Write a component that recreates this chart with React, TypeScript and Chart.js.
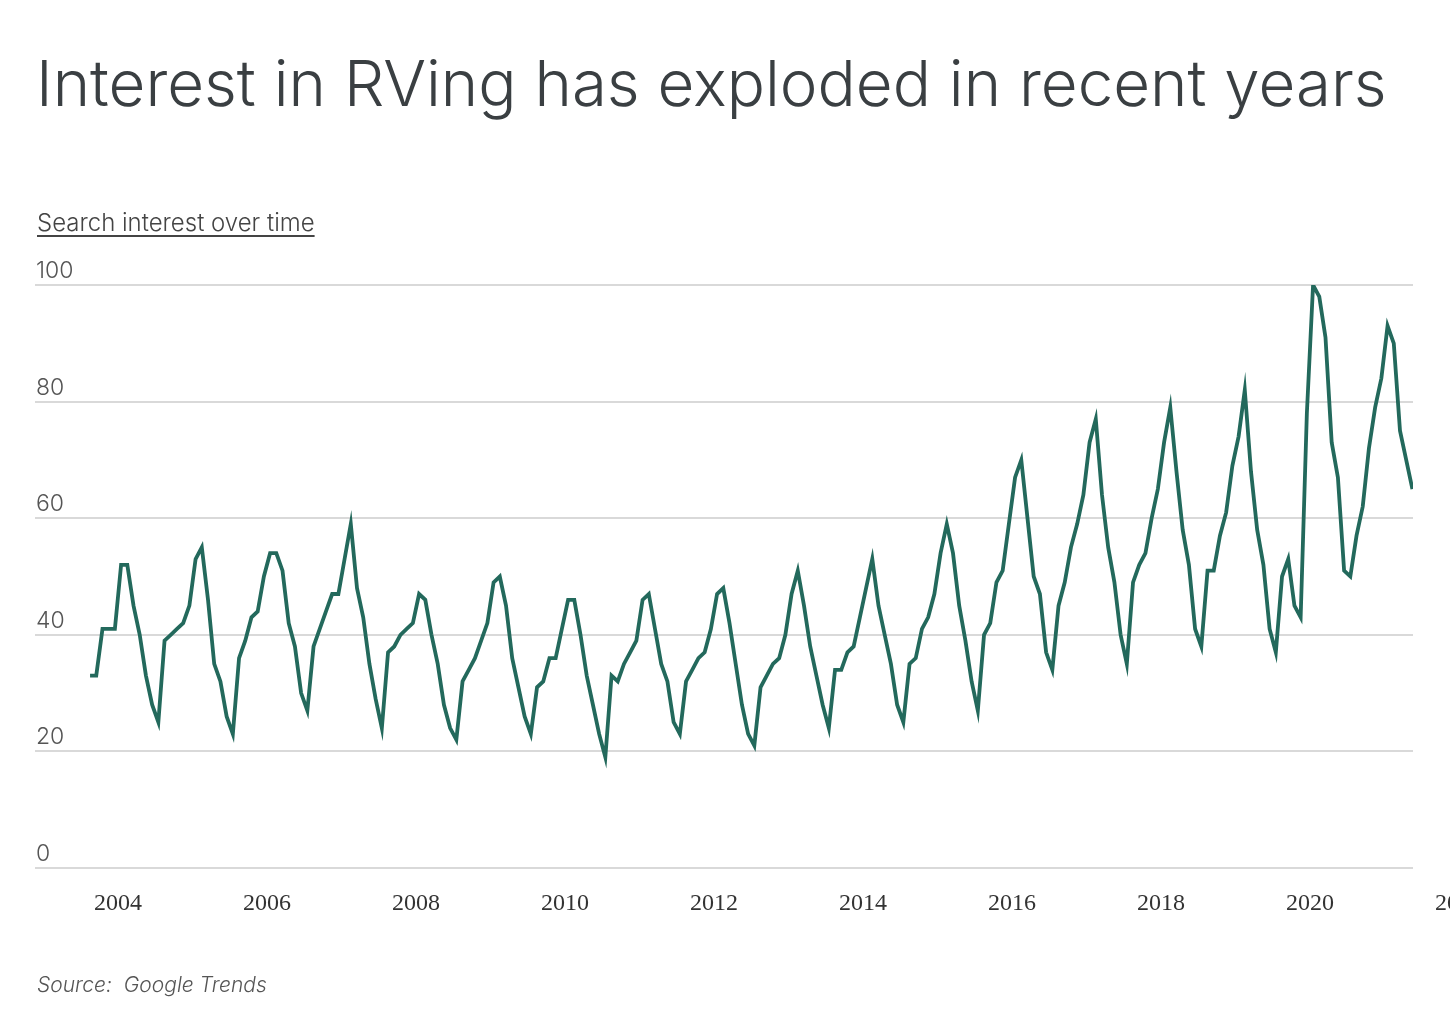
import React, { useEffect, useRef } from "react";
import { Chart, registerables } from "chart.js";

Chart.register(...registerables);

// Monthly search interest, starting August 2003 (first point), Google Trends index
const START_YEAR = 2003;
const START_MONTH = 8; // August
const interest: number[] = [
  33, 33, 41, 41, 41, 52, 52, 45, 40, 33, 28, 25,
  39, 40, 41, 42, 45, 53, 55, 46, 35, 32, 26, 23,
  36, 39, 43, 44, 50, 54, 54, 51, 42, 38, 30, 27,
  38, 41, 44, 47, 47, 53, 59, 48, 43, 35, 29, 24,
  37, 38, 40, 41, 42, 47, 46, 40, 35, 28, 24, 22,
  32, 34, 36, 39, 42, 49, 50, 45, 36, 31, 26, 23,
  31, 32, 36, 36, 41, 46, 46, 40, 33, 28, 23, 19,
  33, 32, 35, 37, 39, 46, 47, 41, 35, 32, 25, 23,
  32, 34, 36, 37, 41, 47, 48, 42, 35, 28, 23, 21,
  31, 33, 35, 36, 40, 47, 51, 45, 38, 33, 28, 24,
  34, 34, 37, 38, 43, 48, 53, 45, 40, 35, 28, 25,
  35, 36, 41, 43, 47, 54, 59, 54, 45, 39, 32, 27,
  40, 42, 49, 51, 59, 67, 70, 60, 50, 47, 37, 34,
  45, 49, 55, 59, 64, 73, 77, 64, 55, 49, 40, 35,
  49, 52, 54, 60, 65, 73, 79, 68, 58, 52, 41, 38,
  51, 51, 57, 61, 69, 74, 82, 68, 58, 52, 41, 37,
  50, 53, 45, 43, 78, 100, 98, 91, 73, 67, 51, 50,
  57, 62, 72, 79, 84, 93, 90, 75, 70, 65,
];

const yTicks: number[] = [0, 20, 40, 60, 80, 100];
const xTickYears: number[] = [2004, 2006, 2008, 2010, 2012, 2014, 2016, 2018, 2020, 2022];

const TITLE = "Interest in RVing has exploded in recent years";
const SUBTITLE = "Search interest over time";
const SOURCE = "Source:  Google Trends";

const LINE_COLOR = "#23695c";

export default function App() {
  const canvasRef = useRef<HTMLCanvasElement | null>(null);

  useEffect(() => {
    const canvas = canvasRef.current;
    if (!canvas) return;
    const points = interest.map((v, i) => ({
      x: START_YEAR + (START_MONTH - 1 + i + 0.5) / 12,
      y: v,
    }));
    const chart = new Chart(canvas, {
      type: "line",
      data: {
        datasets: [
          {
            data: points,
            borderColor: LINE_COLOR,
            borderWidth: 3.8,
            pointRadius: 0,
            tension: 0,
            fill: false,
            borderJoinStyle: "miter",
          },
        ],
      },
      options: {
        responsive: false,
        animation: false,
        devicePixelRatio: 1,
        layout: { padding: { left: 35, right: 37, top: 285, bottom: 84 } },
        plugins: { legend: { display: false }, tooltip: { enabled: false } },
        scales: {
          x: {
            type: "linear",
            min: 2002.886,
            max: 2021.383,
            grid: { display: false },
            border: { display: false },
            ticks: {
              autoSkip: false,
              maxRotation: 0,
              padding: 13,
              color: "#333333",
              font: { family: "'Liberation Serif', 'DejaVu Serif', serif", size: 24 },
              callback: (v: any) => String(v),
            },
            afterBuildTicks: (scale: any) => {
              scale.ticks = xTickYears.map((v) => ({ value: v }));
            },
            afterFit: (scale: any) => {
              scale.height = 60;
              scale.paddingLeft = 0;
              scale.paddingRight = 0;
            },
          },
          y: {
            min: 0,
            max: 100,
            border: { display: false },
            grid: { color: "#d9d9d9", lineWidth: 2, drawTicks: false },
            ticks: {
              mirror: true,
              padding: 1,
              labelOffset: -14,
              color: "#555555",
              font: { family: "Inter, 'Noto Sans', sans-serif", size: 23, weight: 300 },
            },
            afterBuildTicks: (scale: any) => {
              scale.ticks = yTicks.map((v) => ({ value: v }));
            },
            afterFit: (scale: any) => {
              scale.width = 0;
              scale.paddingTop = 0;
              scale.paddingBottom = 0;
            },
          },
        },
      },
    });
    return () => chart.destroy();
  }, []);

  return (
    <div
      style={{
        position: "absolute",
        left: 0,
        top: 0,
        width: 1450,
        height: 1012,
        background: "#ffffff",
        overflow: "hidden",
        fontFamily: "Inter, 'Noto Sans', sans-serif",
      }}
    >
      <canvas
        ref={canvasRef}
        width={1450}
        height={1012}
        style={{ position: "absolute", left: 0, top: 0, width: 1450, height: 1012 }}
      />
      <div
        style={{
          position: "absolute",
          left: 36,
          top: 51,
          fontSize: 63.6,
          lineHeight: "64px",
          fontWeight: 300,
          color: "#3a3f42",
          whiteSpace: "pre",
        }}
      >
        {TITLE}
      </div>
      <div
        style={{
          position: "absolute",
          left: 37,
          top: 209,
          fontSize: 24,
          lineHeight: "28px",
          fontWeight: 300,
          color: "#444444",
          textDecoration: "underline",
          textDecorationThickness: 2,
          textUnderlineOffset: 4,
          whiteSpace: "pre",
        }}
      >
        {SUBTITLE}
      </div>
      <div
        style={{
          position: "absolute",
          left: 37,
          top: 971,
          fontSize: 21,
          lineHeight: "28px",
          fontWeight: 300,
          fontStyle: "italic",
          color: "#555555",
          whiteSpace: "pre",
        }}
      >
        {SOURCE}
      </div>
    </div>
  );
}
